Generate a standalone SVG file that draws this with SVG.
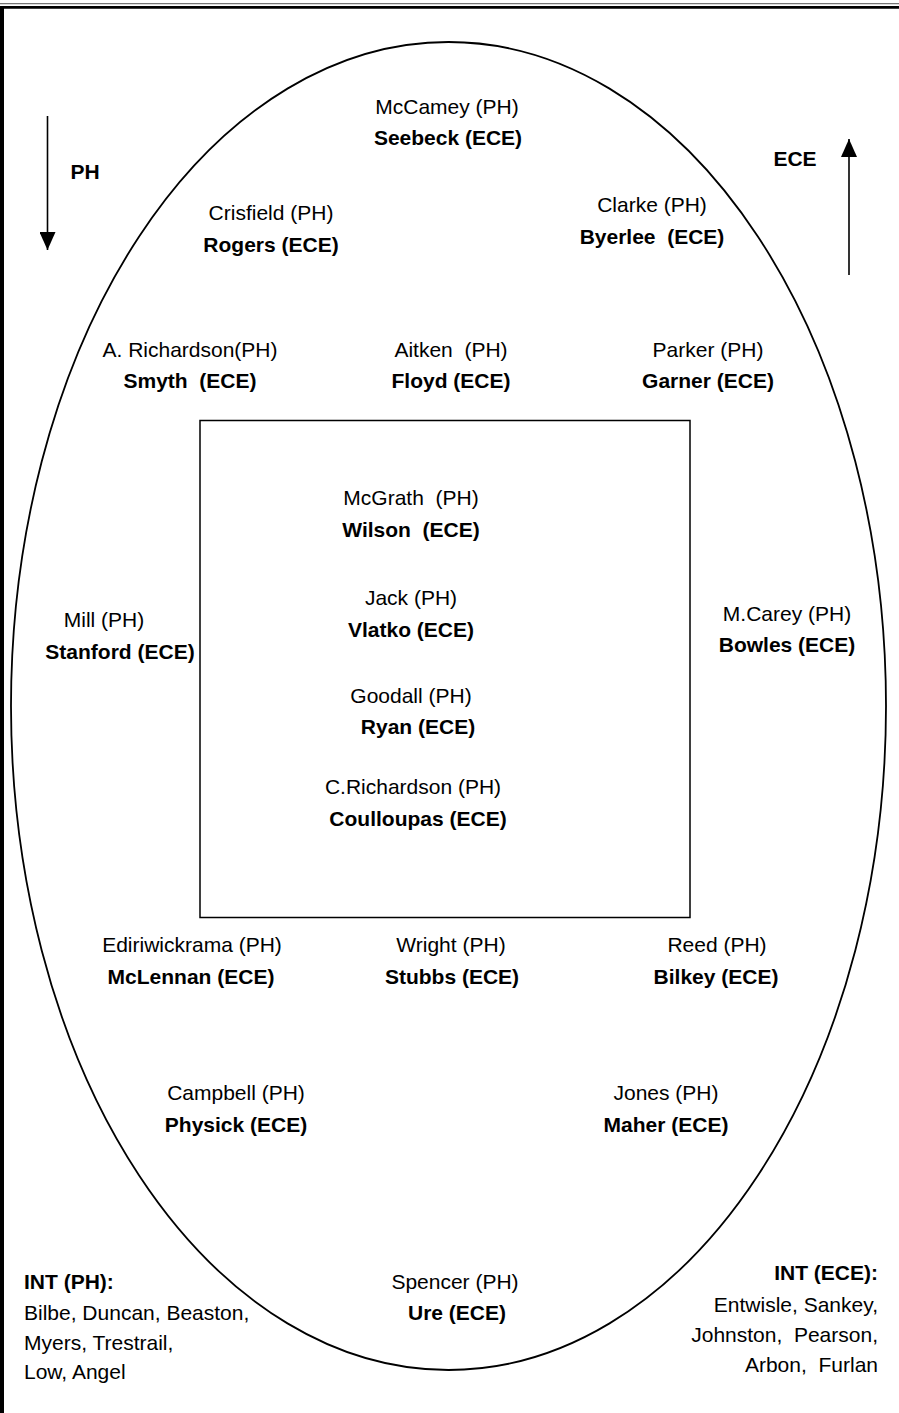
<svg xmlns="http://www.w3.org/2000/svg" width="899" height="1413" viewBox="0 0 899 1413">
<style>
text{font-family:"Liberation Sans",Arial,sans-serif;font-size:21px;fill:#000;white-space:pre;text-anchor:middle}
.b{font-weight:bold}
.l{text-anchor:start}
.r{text-anchor:end}
.ln{stroke:#000;fill:none}
</style>
<defs>
<marker id="ah" viewBox="0 0 18 16" refX="18" refY="8" markerWidth="18" markerHeight="16" markerUnits="userSpaceOnUse" orient="auto"><path d="M0,0 L18,8 L0,16 Z" fill="#000"/></marker>
</defs>
<rect x="0" y="0" width="899" height="1413" fill="#fff"/>
<g id="frame">
<line x1="0" y1="3.6" x2="899" y2="3.6" stroke="#777" stroke-width="1.4"/>
<line x1="0" y1="7.3" x2="899" y2="7.3" stroke="#000" stroke-width="2.8"/>
<rect x="0" y="7" width="4" height="1406" fill="#000"/>
</g>
<g id="shapes">
<ellipse class="ln" cx="448.5" cy="706" rx="437.5" ry="664" stroke-width="1.8"/>
<rect class="ln" x="200" y="420.5" width="490" height="497" stroke-width="1.5"/>
</g>
<g id="connectors">
<line class="ln" x1="47.5" y1="116" x2="47.5" y2="250" stroke-width="1.6" marker-end="url(#ah)"/>
<line class="ln" x1="849" y1="275" x2="849" y2="139" stroke-width="1.6" marker-end="url(#ah)"/>
</g>
<g id="legend-ph"><text class="b" x="85" y="179">PH</text></g>
<g id="legend-ece"><text class="b" x="795" y="166">ECE</text></g>
<g id="n-mccamey"><text x="447" y="114">McCamey (PH)</text><text class="b" x="448" y="145">Seebeck (ECE)</text></g>
<g id="n-crisfield"><text x="271" y="220">Crisfield (PH)</text><text class="b" x="271" y="252">Rogers (ECE)</text></g>
<g id="n-clarke"><text x="652" y="212">Clarke (PH)</text><text class="b" x="652" y="244">Byerlee  (ECE)</text></g>
<g id="n-arichardson"><text x="190" y="357">A. Richardson(PH)</text><text class="b" x="190" y="388">Smyth  (ECE)</text></g>
<g id="n-aitken"><text x="451" y="357">Aitken  (PH)</text><text class="b" x="451" y="388">Floyd (ECE)</text></g>
<g id="n-parker"><text x="708" y="357">Parker (PH)</text><text class="b" x="708" y="388">Garner (ECE)</text></g>
<g id="n-mcgrath"><text x="411" y="505">McGrath  (PH)</text><text class="b" x="411" y="537">Wilson  (ECE)</text></g>
<g id="n-jack"><text x="411" y="605">Jack (PH)</text><text class="b" x="411" y="637">Vlatko (ECE)</text></g>
<g id="n-mill"><text x="104" y="627">Mill (PH)</text><text class="b" x="120" y="659">Stanford (ECE)</text></g>
<g id="n-mcarey"><text x="787" y="621">M.Carey (PH)</text><text class="b" x="787" y="652">Bowles (ECE)</text></g>
<g id="n-goodall"><text x="411" y="703">Goodall (PH)</text><text class="b" x="418" y="734">Ryan (ECE)</text></g>
<g id="n-crichardson"><text x="413" y="794">C.Richardson (PH)</text><text class="b" x="418" y="826">Coulloupas (ECE)</text></g>
<g id="n-ediriwickrama"><text x="192" y="952">Ediriwickrama (PH)</text><text class="b" x="191" y="984">McLennan (ECE)</text></g>
<g id="n-wright"><text x="451" y="952">Wright (PH)</text><text class="b" x="452" y="984">Stubbs (ECE)</text></g>
<g id="n-reed"><text x="717" y="952">Reed (PH)</text><text class="b" x="716" y="984">Bilkey (ECE)</text></g>
<g id="n-campbell"><text x="236" y="1100">Campbell (PH)</text><text class="b" x="236" y="1132">Physick (ECE)</text></g>
<g id="n-jones"><text x="666" y="1100">Jones (PH)</text><text class="b" x="666" y="1132">Maher (ECE)</text></g>
<g id="n-spencer"><text x="455" y="1289">Spencer (PH)</text><text class="b" x="457" y="1320">Ure (ECE)</text></g>
<g id="int-ph"><text class="b l" x="24" y="1289">INT (PH):</text><text class="l" x="24" y="1320">Bilbe, Duncan, Beaston,</text><text class="l" x="24" y="1350">Myers, Trestrail,</text><text class="l" x="24" y="1379">Low, Angel</text></g>
<g id="int-ece"><text class="b r" x="878" y="1280">INT (ECE):</text><text class="r" x="878" y="1312">Entwisle, Sankey,</text><text class="r" x="878" y="1342">Johnston,  Pearson,</text><text class="r" x="878" y="1372">Arbon,  Furlan</text></g>
</svg>
